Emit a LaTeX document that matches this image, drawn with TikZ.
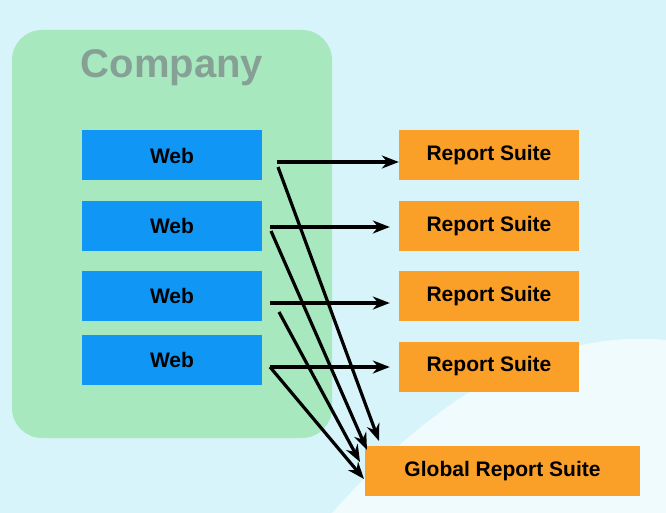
\documentclass[tikz,border=0pt]{standalone}
\usepackage{fontspec}
\setmainfont{Liberation Sans}
\usetikzlibrary{arrows.meta}
\definecolor{bgc}{RGB}{214, 244, 250}
\definecolor{cmp}{RGB}{168, 232, 190}
\definecolor{web}{RGB}{16, 150, 245}
\definecolor{rep}{RGB}{250, 160, 40}
\definecolor{ttl}{RGB}{135, 160, 150}
\tikzset{
  box/.style={minimum width=180pt, minimum height=50pt, inner sep=0pt, font=\fontsize{21}{24}\selectfont\bfseries},
  webbox/.style={box, fill=web},
  repbox/.style={box, fill=rep},
  link/.style={-{Stealth[length=17pt,width=13pt]}, line width=3.2pt}
}
\begin{document}
\begin{tikzpicture}[x=1pt, y=-1pt]
  % background
  \fill[bgc] (0,0) rectangle (666,513);
  \fill[white!60!bgc] (332,513) .. controls (450,380) and (560,330) .. (666,340) -- (666,513) -- cycle;
  \useasboundingbox (0,0) rectangle (666,513);
  \fill[cmp, rounded corners=30pt] (12,30) rectangle (332,438);
  \node[text=ttl, font=\fontsize{40}{44}\selectfont\bfseries] (title) at (172,68) {Company};
  % sources
  \node[webbox] (w1) at (172,155.5) {Web};
  \node[webbox] (w2) at (172,226) {Web};
  \node[webbox] (w3) at (172,296) {Web};
  \node[webbox] (w4) at (172,360) {Web};
  % targets
  \node[repbox] (r1) at (489,155.5) {Report Suite};
  \node[repbox] (r2) at (489,226) {Report Suite};
  \node[repbox] (r3) at (489,296) {Report Suite};
  \node[repbox] (r4) at (489,366.5) {Report Suite};
  \node[repbox, minimum width=275pt] (g) at (502.5,471) {Global Report Suite};
  % arrow starts
  \coordinate (s1) at (277,162);
  \coordinate (s2) at (270,227);
  \coordinate (s3) at (270,303);
  \coordinate (s4) at (270,367);
  \coordinate (d1) at (278,167);
  \coordinate (d2) at (271,231);
  \coordinate (d3) at (279,312);
  \coordinate (g1) at (379,441);
  \coordinate (g2) at (367,450);
  \coordinate (g3) at (360,462);
  \coordinate (g4) at (364,479);
  \draw[link] (s1) -- (r1.west |- s1);
  \draw[link] (s2) -- ([xshift=-9pt]r2.west |- s2);
  \draw[link] (s3) -- ([xshift=-9pt]r3.west |- s3);
  \draw[link] (s4) -- ([xshift=-9pt]r4.west |- s4);
  \draw[link] (d1) -- (g1);
  \draw[link] (d2) -- (g2);
  \draw[link] (d3) -- (g3);
  \draw[link] (s4) -- (g4);
\end{tikzpicture}
\end{document}
